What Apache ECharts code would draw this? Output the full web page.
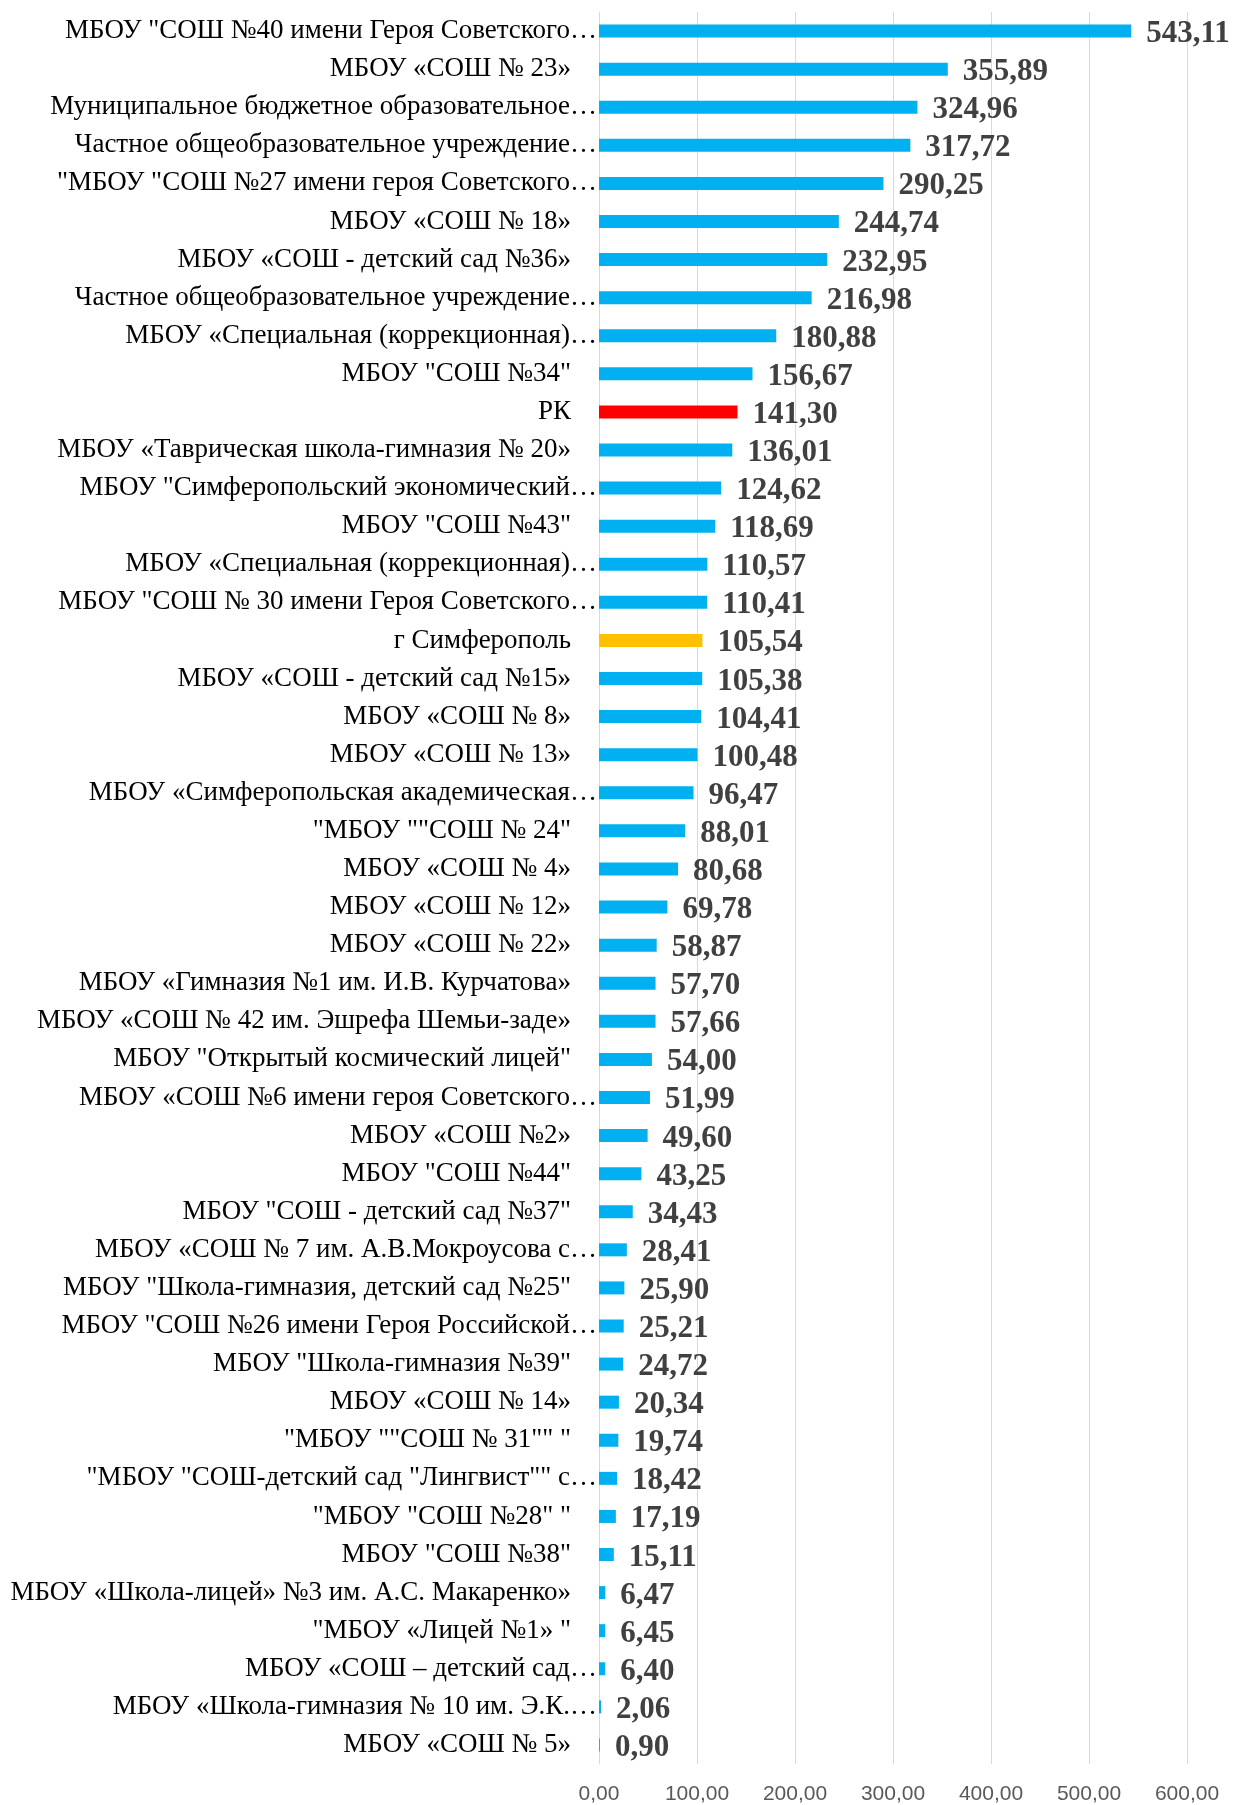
<!DOCTYPE html>
<html>
<head>
<meta charset="utf-8">
<script src="https://cdn.jsdelivr.net/npm/echarts@6/dist/echarts.min.js"></script>
<style>
html, body { margin: 0; padding: 0; background: #fff; }
#chart { width: 1234px; height: 1805px; }
</style>
</head>
<body>
<div id="chart"></div>
<script>
// названия школ (сверху вниз)
var schools = [
    'МБОУ "СОШ №40 имени Героя Советского…',
    'МБОУ «СОШ № 23»',
    'Муниципальное бюджетное образовательное…',
    'Частное общеобразовательное учреждение…',
    '"МБОУ "СОШ №27 имени героя Советского…',
    'МБОУ «СОШ № 18»',
    'МБОУ «СОШ - детский сад №36»',
    'Частное общеобразовательное учреждение…',
    'МБОУ «Специальная (коррекционная)…',
    'МБОУ "СОШ №34"',
    'РК',
    'МБОУ «Таврическая школа-гимназия № 20»',
    'МБОУ "Симферопольский экономический…',
    'МБОУ "СОШ №43"',
    'МБОУ «Специальная (коррекционная)…',
    'МБОУ "СОШ № 30 имени Героя Советского…',
    'г Симферополь',
    'МБОУ «СОШ - детский сад №15»',
    'МБОУ «СОШ № 8»',
    'МБОУ «СОШ № 13»',
    'МБОУ «Симферопольская академическая…',
    '"МБОУ ""СОШ № 24"',
    'МБОУ «СОШ № 4»',
    'МБОУ «СОШ № 12»',
    'МБОУ «СОШ № 22»',
    'МБОУ «Гимназия №1 им. И.В. Курчатова»',
    'МБОУ «СОШ № 42 им. Эшрефа Шемьи-заде»',
    'МБОУ "Открытый космический лицей"',
    'МБОУ «СОШ №6 имени героя Советского…',
    'МБОУ «СОШ №2»',
    'МБОУ "СОШ №44"',
    'МБОУ "СОШ - детский сад №37"',
    'МБОУ «СОШ № 7 им. А.В.Мокроусова с…',
    'МБОУ "Школа-гимназия, детский сад №25"',
    'МБОУ "СОШ №26 имени Героя Российской…',
    'МБОУ "Школа-гимназия №39"',
    'МБОУ «СОШ № 14»',
    '"МБОУ ""СОШ № 31"" "',
    '"МБОУ "СОШ-детский сад "Лингвист"" с…',
    '"МБОУ "СОШ №28" "',
    'МБОУ "СОШ №38"',
    'МБОУ «Школа-лицей» №3 им. А.С. Макаренко»',
    '"МБОУ «Лицей №1» "',
    'МБОУ «СОШ – детский сад…',
    'МБОУ «Школа-гимназия № 10 им. Э.К.…',
    'МБОУ «СОШ № 5»'
];

var values = [
    543.11, 355.89, 324.96, 317.72, 290.25, 244.74, 232.95, 216.98, 180.88, 156.67,
    141.30, 136.01, 124.62, 118.69, 110.57, 110.41, 105.54, 105.38, 104.41, 100.48,
    96.47, 88.01, 80.68, 69.78, 58.87, 57.70, 57.66, 54.00, 51.99, 49.60,
    43.25, 34.43, 28.41, 25.90, 25.21, 24.72, 20.34, 19.74, 18.42, 17.19,
    15.11, 6.47, 6.45, 6.40, 2.06, 0.90
];

var xTicks = [0, 100, 200, 300, 400, 500, 600];

// выделенные строки
var special = { 'РК': '#FF0000', 'г Симферополь': '#FFC000' };

function fmt(v) {
    return v.toFixed(2).replace('.', ',');
}

var dom = document.getElementById('chart');
var myChart = echarts.init(dom, null, { renderer: 'canvas' });

var barData = [];
for (var i = 0; i < values.length; i++) {
    var item = { value: values[i] };
    if (special[schools[i]]) {
        item.itemStyle = { color: special[schools[i]] };
    }
    barData.push(item);
}

var option = {
    backgroundColor: '#ffffff',
    animation: false,
    grid: { left: 599, right: 47, top: 12, bottom: 40 },
    xAxis: {
        type: 'value',
        min: xTicks[0],
        max: xTicks[xTicks.length - 1],
        interval: 100,
        axisLine: { show: false },
        axisTick: { show: false },
        splitLine: { lineStyle: { color: '#d9d9d9', width: 1 } },
        axisLabel: {
            margin: 20,
            color: '#595959',
            fontSize: 21,
            fontFamily: 'Liberation Sans',
            formatter: function (v) { return fmt(v); }
        }
    },
    yAxis: {
        type: 'category',
        inverse: true,
        data: schools,
        axisLine: { lineStyle: { color: '#d9d9d9', width: 1 } },
        axisTick: { show: false },
        axisLabel: {
            margin: 2,
            interval: 0,
            formatter: function (v) {
                // у обрезанных подписей многоточие доходит до оси
                if (v.charAt(v.length - 1) === '…') {
                    return '{n|' + v + '}';
                }
                return '{n|' + v + '}{s| }';
            },
            rich: {
                n: { fontSize: 27, color: '#000000', fontFamily: 'Liberation Serif' },
                s: { width: 26, fontSize: 27 }
            }
        }
    },
    series: [{
        type: 'bar',
        data: barData,
        barWidth: 13,
        itemStyle: { color: '#00B0F0' },
        label: {
            show: true,
            position: 'right',
            distance: 15,
            offset: [0, 3],
            color: '#404040',
            fontSize: 31,
            fontWeight: 'bold',
            fontFamily: 'Liberation Serif',
            formatter: function (p) { return fmt(p.value); }
        }
    }]
};

myChart.setOption(option);
</script>
</body>
</html>
